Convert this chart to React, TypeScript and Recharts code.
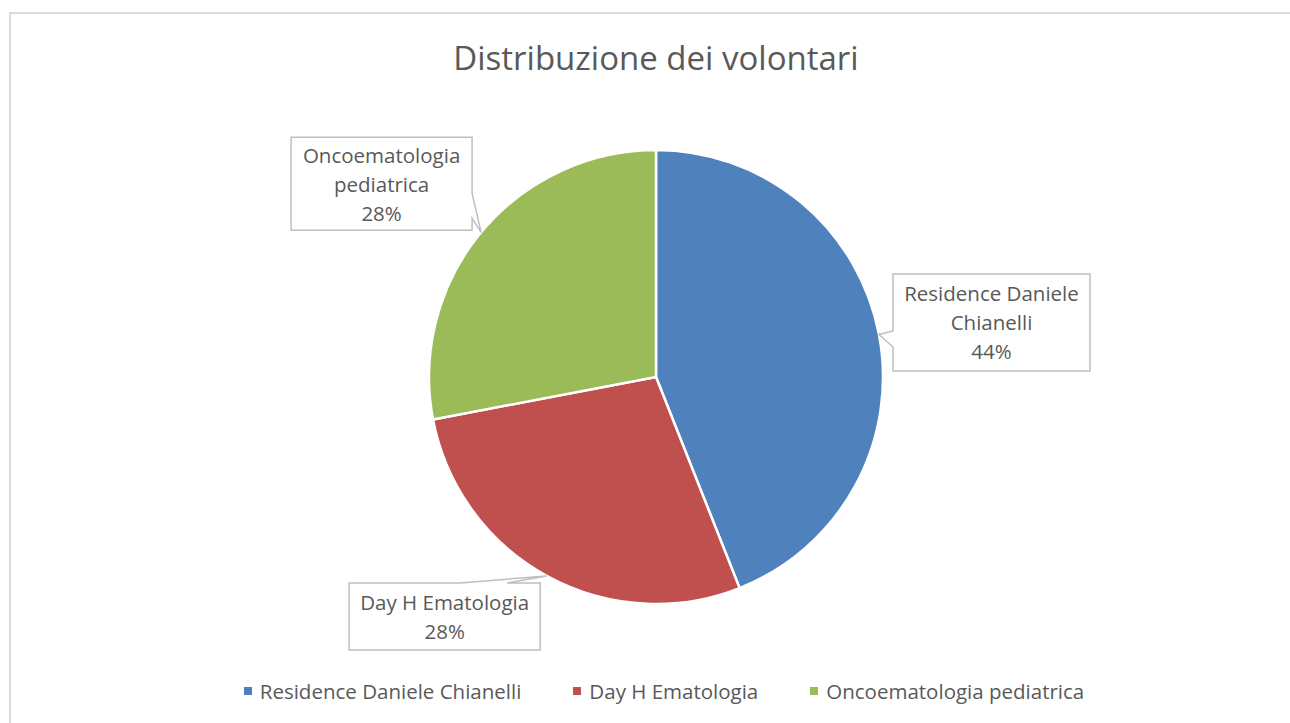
import React from "react";
import { PieChart, Pie, Cell, Legend } from "recharts";

const categories = ["Residence Daniele Chianelli", "Day H Ematologia", "Oncoematologia pediatrica"];
const values = [44, 28, 28];
const labelLines = [["Residence Daniele", "Chianelli"], ["Day H Ematologia"], ["Oncoematologia", "pediatrica"]];
const colors = ["#4F81BD", "#C0504D", "#9BBB59"];

// callout box layout (relative to the slice's outer-edge point at mid angle)
const callouts = [
  { dx: 14, dy: -60.5, w: 197, h: 97, side: "left", a1: 57, a2: 73 },
  { dx: -197.5, dy: 7, w: 191, h: 67, side: "top", a1: 111, a2: 158 },
  { dx: -190, dy: -95, w: 181, h: 93, side: "right", a1: 56, a2: 81 },
];

const data = categories.map((name, i) => ({ name, value: values[i] }));

const FONT = "'Open Sans', 'Noto Sans', sans-serif";
const TEXT = "#595959";
const RADIAN = Math.PI / 180;

const renderLabel = (props: any) => {
  const { cx, cy, midAngle, outerRadius, percent, index } = props;
  const tx = cx + outerRadius * Math.cos(-midAngle * RADIAN);
  const ty = cy + outerRadius * Math.sin(-midAngle * RADIAN);
  const c = callouts[index];
  const L = tx + c.dx;
  const T = ty + c.dy;
  const R = L + c.w;
  const B = T + c.h;
  let d = "";
  if (c.side === "top") {
    d = `M${L},${T} L${L + c.a1},${T} L${tx},${ty} L${L + c.a2},${T} L${R},${T} L${R},${B} L${L},${B} Z`;
  } else if (c.side === "right") {
    d = `M${L},${T} L${R},${T} L${R},${T + c.a1} L${tx},${ty} L${R},${T + c.a2} L${R},${B} L${L},${B} Z`;
  } else {
    d = `M${L},${T} L${R},${T} L${R},${B} L${L},${B} L${L},${T + c.a2} L${tx},${ty} L${L},${T + c.a1} Z`;
  }
  const lines = [...labelLines[index], `${Math.round(percent * 100)}%`];
  const lh = 29;
  const midY = (T + B) / 2;
  const startY = midY - ((lines.length - 1) * lh) / 2;
  return (
    <g>
      <path d={d} fill="#ffffff" stroke="#bfbfbf" strokeWidth={1.5} />
      {lines.map((ln, i) => (
        <text
          key={i}
          x={(L + R) / 2}
          y={startY + i * lh}
          textAnchor="middle"
          dominantBaseline="central"
          fill={TEXT}
          fontFamily={FONT}
          fontSize={20.5}
        >
          {ln}
        </text>
      ))}
    </g>
  );
};

const renderLegend = (props: any) => {
  const payload = [...(props.payload || [])].sort(
    (a: any, b: any) => categories.indexOf(a.value) - categories.indexOf(b.value)
  );
  return (
    <div style={{ display: "flex", justifyContent: "center", alignItems: "center", gap: 52, fontFamily: FONT, fontSize: 20.5, color: TEXT, lineHeight: "30px" }}>
      {payload.map((p: any, i: number) => (
        <div key={i} style={{ display: "flex", alignItems: "center" }}>
          <span style={{ display: "inline-block", width: 8, height: 8, background: p.color, marginRight: 8 }} />
          <span>{p.value}</span>
        </div>
      ))}
    </div>
  );
};

export default function App() {
  return (
    <div style={{ position: "absolute", left: 0, top: 0, width: 1290, height: 723, overflow: "hidden", background: "#fff" }}>
      <div style={{ position: "absolute", left: 9, top: 12, width: 1300, height: 730, borderTop: "2px solid #d9d9d9", borderLeft: "2px solid #d9d9d9", boxSizing: "border-box" }} />
      <div style={{ position: "absolute", left: 0, top: 36, width: 1312, textAlign: "center", fontFamily: FONT, fontSize: 33, color: TEXT, lineHeight: "44px" }}>
        Distribuzione dei volontari
      </div>
      <div style={{ position: "absolute", left: 0, top: 0 }}>
        <PieChart width={1290} height={723} margin={{ top: 0, right: 0, bottom: 0, left: 0 }}>
          <Pie
            data={data}
            dataKey="value"
            nameKey="name"
            cx={656}
            cy={377}
            outerRadius={227}
            startAngle={90}
            endAngle={-270}
            stroke="#ffffff"
            strokeWidth={2.5}
            label={renderLabel}
            labelLine={false}
            isAnimationActive={false}
          >
            {data.map((_, i) => (
              <Cell key={i} fill={colors[i]} />
            ))}
          </Pie>
          <Legend content={renderLegend} wrapperStyle={{ left: 0, top: 676, width: 1328, height: 30, bottom: "auto" }} />
        </PieChart>
      </div>
    </div>
  );
}
